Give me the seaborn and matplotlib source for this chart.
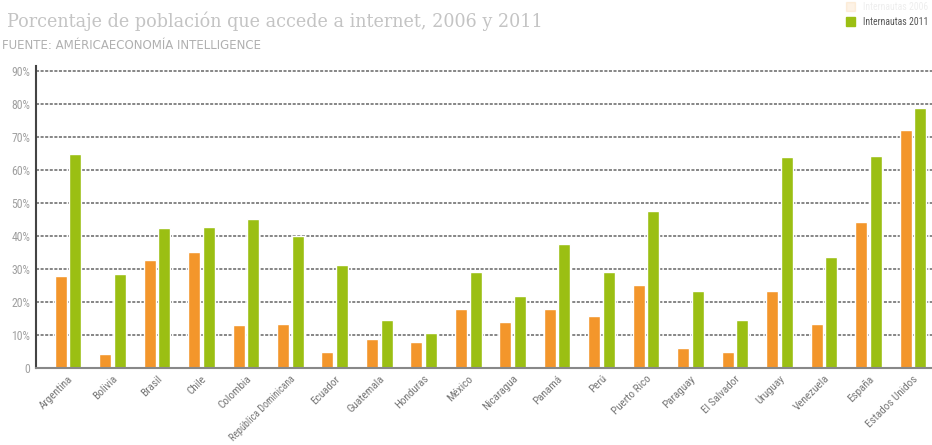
import pandas as pd
import matplotlib.pyplot as plt
import seaborn as sns

paises = ['Argentina', 'Bolivia', 'Brasil', 'Chile', 'Colombia', 'República Dominicana',
          'Ecuador', 'Guatemala', 'Honduras', 'México', 'Nicaragua', 'Panamá', 'Perú',
          'Puerto Rico', 'Paraguay', 'El Salvador', 'Uruguay', 'Venezuela', 'España',
          'Estados Unidos']
internautas_2006 = [27.9, 4.2, 32.7, 35.2, 13.0, 13.3, 4.8, 8.8, 7.9, 17.9,
                    13.9, 17.9, 15.8, 25.2, 6.0, 4.8, 23.3, 13.3, 44.2, 72.1]
internautas_2011 = [64.8, 28.5, 42.4, 42.7, 45.0, 40.0, 31.2, 14.5, 10.6, 29.0,
                    21.8, 37.6, 29.0, 47.6, 23.3, 14.5, 64.0, 33.6, 64.2, 78.8]
series = ['Internautas 2006', 'Internautas 2011']
ytick_vals = [0, 10, 20, 30, 40, 50, 60, 70, 80, 90]
ytick_labels = ['0', '10%', '20%', '30%', '40%', '50%', '60%', '70%', '80%', '90%']

df = pd.DataFrame({'pais': paises * 2,
                   'valor': internautas_2006 + internautas_2011,
                   'serie': [series[0]] * len(paises) + [series[1]] * len(paises)})

sns.set_theme(style='white')
narrow = ['Liberation Sans Narrow', 'DejaVu Sans Condensed', 'Roboto Condensed', 'DejaVu Sans']
plt.rcParams['font.family'] = narrow
plt.rcParams['font.stretch'] = 'condensed'

fig = plt.figure(figsize=(9.32, 4.45), dpi=100)
ax = fig.add_axes([0.0386, 0.173, 0.9614, 0.679])

sns.barplot(data=df, x='pais', y='valor', hue='serie', ax=ax,
            palette=['#f3962b', '#9bbf13'], width=0.66, gap=0.18,
            saturation=1, legend=False)

ax.set_xlim(-0.72, 19.43)
ax.set_ylim(0, 91.5)
ax.set_yticks(ytick_vals)
ax.set_yticklabels(ytick_labels, color='#a0a0a0', fontsize=8.5)
ax.set_xticks(range(len(paises)))
ax.set_xticklabels(paises, rotation=45, ha='right', rotation_mode='anchor',
                   color='#777777', fontsize=8)
for lbl in ax.get_xticklabels():
    if len(lbl.get_text()) > 15:
        lbl.set_fontsize(7.2)
ax.tick_params(axis='y', length=0, pad=4)
ax.tick_params(axis='x', length=0, pad=4)
ax.set_xlabel('')
ax.set_ylabel('')
for v in ytick_vals[1:]:
    ax.axhline(v, color='#666666', lw=1.1, ls=(0, (2, 1)), zorder=0)
for s in ['top', 'right']:
    ax.spines[s].set_visible(False)
ax.spines['left'].set_color('#444444')
ax.spines['bottom'].set_color('#888888')
ax.spines['left'].set_linewidth(1.5)
ax.spines['bottom'].set_linewidth(1.5)

fig.text(0.008, 0.94, 'Porcentaje de población que accede a internet, 2006 y 2011',
         fontsize=14, color='#c4c4c4', family=['DejaVu Serif'])
fig.text(0.002, 0.89, 'FUENTE: AMÉRICAECONOMÍA INTELLIGENCE', fontsize=8.5,
         color='#b0b0b0', family=['DejaVu Sans'], stretch='normal')

handles = [plt.Rectangle((0, 0), 1, 1, color='#f3962b', alpha=0.12),
           plt.Rectangle((0, 0), 1, 1, color='#9bbf13')]
leg = fig.legend(handles, series, loc='upper left', bbox_to_anchor=(0.898, 1.015),
                 frameon=False, fontsize=7, handlelength=1.0, handleheight=1.0,
                 labelspacing=0.5, handletextpad=0.8)
leg.get_texts()[0].set_color('#eeeeee')
leg.get_texts()[1].set_color('#555555')

plt.savefig('out.png', dpi=100)
